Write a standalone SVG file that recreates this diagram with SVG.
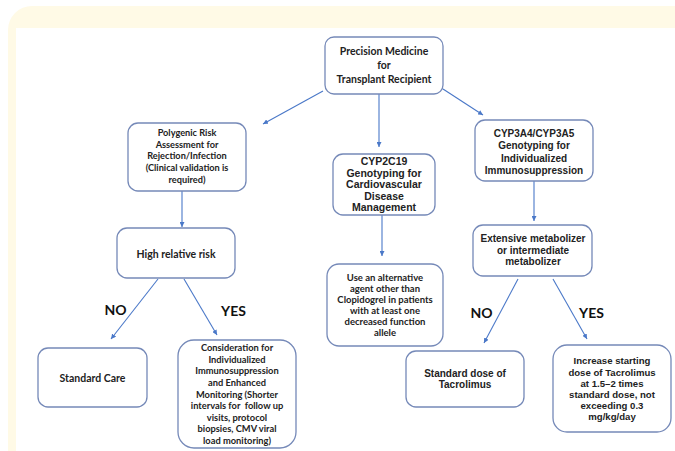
<svg xmlns="http://www.w3.org/2000/svg" width="675" height="451" viewBox="0 0 675 451">
<defs>
<style>
.box{fill:#ffffff;stroke:#7589b8;stroke-width:1.3}
.c{font-family:Lato,"Open Sans","Liberation Sans",sans-serif;font-weight:bold;fill:#222;text-anchor:middle}
.a{font-family:"Liberation Sans",Arial,sans-serif;font-weight:bold;fill:#222;text-anchor:middle}
.ln{stroke:#4a78c8;stroke-width:1.1;fill:none;marker-end:url(#ah)}
.lab{font-family:Lato,"Liberation Sans",sans-serif;font-weight:bold;font-size:14px;fill:#111;text-anchor:middle}
</style>
<marker id="ah" markerUnits="userSpaceOnUse" markerWidth="6" markerHeight="5" refX="5" refY="2.5" orient="auto">
<path d="M0,0 L5,2.5 L0,5 z" fill="#4a78c8"/>
</marker>
</defs>
<rect x="0" y="0" width="675" height="451" fill="#ffffff"/>
<rect x="8" y="6" width="700" height="480" rx="24" fill="#fffae6"/>
<rect x="16" y="28" width="670" height="440" fill="#ffffff"/>

<g id="connectors">
<line class="ln" x1="323" y1="91" x2="263" y2="124"/>
<line class="ln" x1="379" y1="94" x2="379" y2="147"/>
<line class="ln" x1="443" y1="89" x2="483" y2="115"/>
<line class="ln" x1="182" y1="191" x2="182" y2="227"/>
<line class="ln" x1="382" y1="215" x2="382" y2="256"/>
<line class="ln" x1="534" y1="181" x2="534" y2="221"/>
<line class="ln" x1="158" y1="279" x2="111" y2="339"/>
<line class="ln" x1="184" y1="279" x2="217" y2="335"/>
<line class="ln" x1="518" y1="279" x2="484" y2="343"/>
<line class="ln" x1="553" y1="279" x2="587" y2="339"/>
</g>

<g id="labels">
<text class="lab" x="115.5" y="315">NO</text>
<text class="lab" x="233.5" y="316">YES</text>
<text class="lab" x="481.5" y="318">NO</text>
<text class="lab" x="591.5" y="318">YES</text>
</g>

<g id="top">
<rect class="box" x="325" y="37" width="118" height="57" rx="9"/>
<text class="c" font-size="10.5"><tspan x="384" y="54.5">Precision Medicine</tspan><tspan x="384" y="68.5">for</tspan><tspan x="384" y="82.5">Transplant Recipient</tspan></text>
</g>

<g id="polygenic">
<rect class="box" x="128" y="123" width="118" height="68" rx="10"/>
<text class="c" font-size="9.2"><tspan x="187" y="136">Polygenic Risk</tspan><tspan x="187" y="147.5">Assessment for</tspan><tspan x="187" y="159">Rejection/Infection</tspan><tspan x="187" y="171">(Clinical validation is</tspan><tspan x="187" y="183">required)</tspan></text>
</g>

<g id="cyp2c19">
<rect class="box" x="333" y="154" width="102" height="61" rx="10"/>
<text class="a" font-size="10.5"><tspan x="384" y="165">CYP2C19</tspan><tspan x="384" y="176.5">Genotyping for</tspan><tspan x="384" y="188">Cardiovascular</tspan><tspan x="384" y="199.5">Disease</tspan><tspan x="384" y="211">Management</tspan></text>
</g>

<g id="cyp3a4">
<rect class="box" x="475" y="120" width="118" height="61" rx="10"/>
<text class="a" font-size="10"><tspan x="534" y="136.5">CYP3A4/CYP3A5</tspan><tspan x="534" y="149">Genotyping for</tspan><tspan x="534" y="161.5">Individualized</tspan><tspan x="534" y="173.5">Immunosuppression</tspan></text>
</g>

<g id="high-risk">
<rect class="box" x="117" y="228" width="118" height="50" rx="10"/>
<text class="c" font-size="10.5" x="176" y="257.5">High relative risk</text>
</g>

<g id="alternative">
<rect class="box" x="327" y="264" width="116" height="82" rx="12"/>
<text class="c" font-size="9.5"><tspan x="385" y="280.5">Use an alternative</tspan><tspan x="385" y="291.5">agent other than</tspan><tspan x="385" y="302.5">Clopidogrel in patients</tspan><tspan x="385" y="313.5">with at least one</tspan><tspan x="385" y="324.5">decreased function</tspan><tspan x="385" y="335.5">allele</tspan></text>
</g>

<g id="extensive">
<rect class="box" x="473" y="225" width="119" height="51" rx="10"/>
<text class="a" font-size="10"><tspan x="533" y="241.5">Extensive metabolizer</tspan><tspan x="533" y="253.5">or intermediate</tspan><tspan x="533" y="265">metabolizer</tspan></text>
</g>

<g id="standard-care">
<rect class="box" x="38" y="348" width="109" height="59" rx="10"/>
<text class="c" font-size="10.5" x="92.5" y="381.5">Standard Care</text>
</g>

<g id="consideration">
<rect class="box" x="178" y="340" width="118" height="108" rx="16"/>
<text class="c" font-size="9.3"><tspan x="237" y="351.2">Consideration for</tspan><tspan x="237" y="362.8">Individualized</tspan><tspan x="237" y="374.4">Immunosuppression</tspan><tspan x="237" y="386">and Enhanced</tspan><tspan x="237" y="397.6">Monitoring (Shorter</tspan><tspan x="237" y="409.2">intervals for &#160;follow up</tspan><tspan x="237" y="420.8">visits, protocol</tspan><tspan x="237" y="432.4">biopsies, CMV viral</tspan><tspan x="237" y="444">load monitoring)</tspan></text>
</g>

<g id="standard-dose">
<rect class="box" x="406" y="351" width="118" height="56" rx="10"/>
<text class="a" font-size="10"><tspan x="465" y="376.8">Standard dose of</tspan><tspan x="465" y="387.8">Tacrolimus</tspan></text>
</g>

<g id="increase">
<rect class="box" x="553" y="345" width="118" height="87" rx="14"/>
<text class="a" font-size="9.6"><tspan x="612" y="364.4">Increase starting</tspan><tspan x="612" y="375.6">dose of Tacrolimus</tspan><tspan x="612" y="386.8">at 1.5–2 times</tspan><tspan x="612" y="398">standard dose, not</tspan><tspan x="612" y="409.2">exceeding 0.3</tspan><tspan x="612" y="420.4">mg/kg/day</tspan></text>
</g>
</svg>
